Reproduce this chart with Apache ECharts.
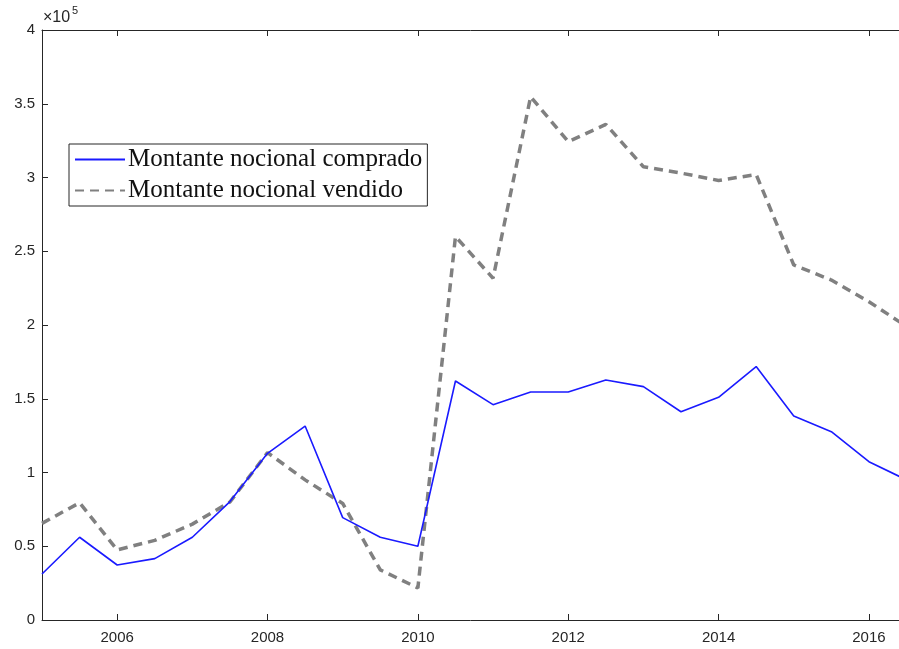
<!DOCTYPE html>
<html>
<head>
<meta charset="utf-8">
<script src="https://cdn.jsdelivr.net/npm/echarts@6/dist/echarts.min.js"></script>
<style>
html,body{margin:0;padding:0;background:#fff;}
#chart{width:899px;height:649px;}
</style>
</head>
<body>
<div id="chart"></div>
<script>
// Time (years, semiannual)
var years = [2005.0, 2005.5, 2006.0, 2006.5, 2007.0, 2007.5, 2008.0, 2008.5, 2009.0, 2009.5, 2010.0, 2010.5,
             2011.0, 2011.5, 2012.0, 2012.5, 2013.0, 2013.5, 2014.0, 2014.5, 2015.0, 2015.5, 2016.0, 2016.5];
// values in units of 10^5
var comprado = [0.312, 0.561, 0.373, 0.416, 0.561, 0.803, 1.13, 1.315, 0.694, 0.561, 0.50, 1.620,
                1.460, 1.546, 1.546, 1.627, 1.582, 1.412, 1.510, 1.718, 1.383, 1.277, 1.073, 0.95];
var vendido = [0.655, 0.795, 0.475, 0.54, 0.65, 0.80, 1.135, 0.95, 0.79, 0.34, 0.217, 2.60,
               2.317, 3.548, 3.243, 3.36, 3.073, 3.03, 2.98, 3.02, 2.407, 2.305, 2.158, 1.99];
var xTicks = [2006, 2008, 2010, 2012, 2014, 2016];
var seriesNames = ['Montante nocional comprado', 'Montante nocional vendido'];
var exponentLabel = ['\u00d710', '5'];

function pairs(xs, ys) { return xs.map(function (x, i) { return [x, ys[i]]; }); }

var axisColor = '#262626';
var chart = echarts.init(document.getElementById('chart'), null, {renderer: 'canvas'});
chart.setOption({
  backgroundColor: '#ffffff',
  animation: false,
  grid: {left: 42, right: 0, top: 30, bottom: 29, containLabel: false},
  legend: {
    orient: 'vertical',
    left: 69, top: 144,
    padding: [3, 5, 3, 5],
    itemGap: 6,
    itemWidth: 50,
    itemHeight: 8,
    borderColor: '#262626',
    borderWidth: 1,
    backgroundColor: '#fff',
    itemStyle: {color: 'rgba(0,0,0,0)', borderWidth: 0, opacity: 0},
    textStyle: {fontFamily: 'Liberation Serif', fontSize: 25, color: '#111', lineHeight: 25, padding: [0,0,0,-2]},
    data: seriesNames
  },
  xAxis: [{
    type: 'value', min: 2005, max: 2016.4, position: 'bottom',
    axisLine: {show: true, onZero: false, lineStyle: {color: axisColor, width: 1}},
    axisTick: {show: true, inside: true, length: 6, customValues: xTicks, lineStyle: {color: axisColor}},
    axisLabel: {customValues: xTicks, color: axisColor, fontFamily: 'Liberation Sans', fontSize: 15, margin: 10,
                formatter: function (v) { return String(v); }},
    splitLine: {show: false}
  }, {
    type: 'value', min: 2005, max: 2016.4, position: 'top',
    axisLine: {show: true, onZero: false, lineStyle: {color: axisColor, width: 1}},
    axisTick: {show: true, inside: true, length: 6, customValues: xTicks, lineStyle: {color: axisColor}},
    axisLabel: {show: false},
    splitLine: {show: false}
  }],
  yAxis: [{
    type: 'value', min: 0, max: 4, interval: 0.5,
    axisLine: {show: true, lineStyle: {color: axisColor, width: 1}},
    axisTick: {show: true, inside: true, length: 6, lineStyle: {color: axisColor}},
    axisLabel: {color: axisColor, fontFamily: 'Liberation Sans', fontSize: 15, margin: 7,
                formatter: function (v) { return String(v); }},
    splitLine: {show: false}
  }],
  graphic: [
    {type: 'text', left: 43, top: 10, style: {text: exponentLabel[0], font: '16px "Liberation Sans"', fill: axisColor}},
    {type: 'text', left: 72, top: 5, style: {text: exponentLabel[1], font: '11px "Liberation Sans"', fill: axisColor}}
  ],
  series: [{
    name: seriesNames[0], type: 'line', xAxisIndex: 0, symbol: 'none', showSymbol: false,
    data: pairs(years, comprado), clip: true,
    lineStyle: {color: '#1a1aff', width: 1.6},
    itemStyle: {color: '#1a1aff'},
    z: 3
  }, {
    name: seriesNames[1], type: 'line', xAxisIndex: 0, symbol: 'none', showSymbol: false,
    data: pairs(years, vendido), clip: true,
    lineStyle: {color: '#808080', width: 3.5, type: [9, 6]},
    itemStyle: {color: '#808080'},
    z: 2
  }]
});
</script>
</body>
</html>
